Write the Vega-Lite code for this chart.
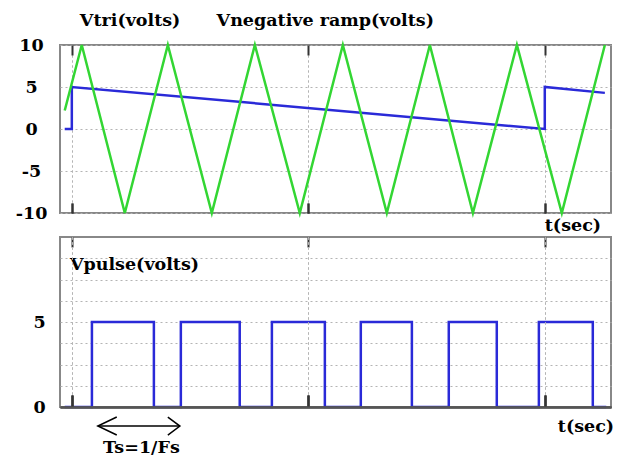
{
  "$schema": "https://vega.github.io/schema/vega-lite/v6.json",
  "autosize": {"type": "none"},
  "padding": {"left": 60, "top": 45, "right": 560, "bottom": 417},
  "background": "white",
  "bounds": "flush",
  "spacing": 24,
  "config": {
    "view": {"stroke": "#888888", "strokeWidth": 2},
    "text": {"font": "DejaVu Serif", "fontWeight": "bold", "fontSize": 17.5, "color": "black"}
  },
  "vconcat": [
    {
      "width": 551,
      "height": 168,
      "encoding": {
        "x": {"field": "t", "type": "quantitative", "scale": {"domain": [-0.5, 22.8], "nice": false, "zero": false},
          "axis": {"orient": "bottom", "values": [0, 10, 20], "labels": false, "title": null, "grid": true, "gridColor": "#b4b4b4", "gridDash": [2, 3], "gridWidth": 1, "ticks": true, "tickSize": -10, "tickColor": "#333333", "tickWidth": 2, "domain": false}},
        "y": {"field": "v", "type": "quantitative", "scale": {"domain": [-10, 10], "nice": false, "zero": false},
          "axis": {"values": [-10, -5, 0, 5, 10], "title": null, "grid": true, "gridColor": "#b4b4b4", "gridDash": [2, 3], "gridWidth": 1, "ticks": false, "domain": false, "labelFont": "DejaVu Serif", "labelFontWeight": "bold", "labelFontSize": 17.5, "labelColor": "black", "labelAlign": "center", "labelBaseline": "middle", "labelPadding": 29, "labelOverlap": false, "labelBound": false, "labelFlush": false,
            "labelExpr": "datum.value < 0 ? '-' + abs(datum.value) : '' + datum.value"}}
      },
      "layer": [
        {
          "data": {"values": [
            {"i": 1, "t": -0.3, "v": 0},
            {"i": 2, "t": 0, "v": 0},
            {"i": 3, "t": 0, "v": 5},
            {"i": 4, "t": 20, "v": 0},
            {"i": 5, "t": 20, "v": 5},
            {"i": 6, "t": 22.54, "v": 4.3}
          ]},
          "mark": {"type": "line", "color": "#2a2ad8", "strokeWidth": 2.5},
          "encoding": {
            "order": {"field": "i", "type": "quantitative"}
          }
        },
        {
          "data": {"values": [
            {"i": 1, "t": -0.3, "v": 2.2},
            {"i": 2, "t": 0.42, "v": 10},
            {"i": 3, "t": 2.24, "v": -10},
            {"i": 4, "t": 4.06, "v": 10},
            {"i": 5, "t": 5.92, "v": -10},
            {"i": 6, "t": 7.74, "v": 10},
            {"i": 7, "t": 9.64, "v": -10},
            {"i": 8, "t": 11.46, "v": 10},
            {"i": 9, "t": 13.32, "v": -10},
            {"i": 10, "t": 15.14, "v": 10},
            {"i": 11, "t": 16.96, "v": -10},
            {"i": 12, "t": 18.82, "v": 10},
            {"i": 13, "t": 20.72, "v": -10},
            {"i": 14, "t": 22.54, "v": 10}
          ]},
          "mark": {"type": "line", "color": "#33d633", "strokeWidth": 2.5},
          "encoding": {
            "x": {"field": "t", "type": "quantitative",
              "axis": {"orient": "top", "values": [0, 10, 20], "labels": false, "title": null, "grid": false, "ticks": true, "tickSize": -10, "tickColor": "#333333", "tickWidth": 2, "domain": false}},
            "order": {"field": "i", "type": "quantitative"}
          }
        },
        {
          "data": {"values": [
            {"t": 0.34, "v": 12.8, "label": "Vtri(volts)"},
            {"t": 6.12, "v": 12.8, "label": "Vnegative ramp(volts)"},
            {"t": 20.0, "v": -11.55, "label": "t(sec)"}
          ]},
          "mark": {"type": "text", "align": "left", "baseline": "middle"},
          "encoding": {
            "text": {"field": "label"}
          }
        }
      ],
      "resolve": {"axis": {"x": "independent"}}
    },
    {
      "width": 551,
      "height": 170,
      "encoding": {
        "x": {"field": "t", "type": "quantitative", "scale": {"domain": [-0.5, 22.8], "nice": false, "zero": false},
          "axis": {"orient": "bottom", "values": [0, 10, 20], "labels": false, "title": null, "grid": true, "gridColor": "#b4b4b4", "gridDash": [2, 3], "gridWidth": 1, "ticks": true, "tickSize": -12, "tickColor": "#333333", "tickWidth": 2, "domain": true, "domainColor": "#555555", "domainWidth": 2, "zindex": 1}},
        "y": {"field": "v", "type": "quantitative", "scale": {"domain": [0, 10], "nice": false, "zero": false},
          "axis": {"values": [0, 1.25, 2.5, 3.75, 5, 6.25, 7.5, 8.75], "title": null, "grid": true, "gridColor": "#b4b4b4", "gridDash": [2, 3], "gridWidth": 1, "ticks": false, "domain": false, "labelFont": "DejaVu Serif", "labelFontWeight": "bold", "labelFontSize": 17.5, "labelColor": "black", "labelAlign": "center", "labelBaseline": "middle", "labelPadding": 21, "labelOverlap": false, "labelBound": false, "labelFlush": false,
            "labelExpr": "datum.value == 0 || datum.value == 5 ? '' + datum.value : ''"}}
      },
      "layer": [
        {
          "data": {"values": [
            {"i": 1, "t": -0.3, "v": 0},
            {"i": 2, "t": 0.85, "v": 0},
            {"i": 3, "t": 0.85, "v": 5},
            {"i": 4, "t": 3.47, "v": 5},
            {"i": 5, "t": 3.47, "v": 0},
            {"i": 6, "t": 4.61, "v": 0},
            {"i": 7, "t": 4.61, "v": 5},
            {"i": 8, "t": 7.10, "v": 5},
            {"i": 9, "t": 7.10, "v": 0},
            {"i": 10, "t": 8.46, "v": 0},
            {"i": 11, "t": 8.46, "v": 5},
            {"i": 12, "t": 10.70, "v": 5},
            {"i": 13, "t": 10.70, "v": 0},
            {"i": 14, "t": 12.22, "v": 0},
            {"i": 15, "t": 12.22, "v": 5},
            {"i": 16, "t": 14.38, "v": 5},
            {"i": 17, "t": 14.38, "v": 0},
            {"i": 18, "t": 15.94, "v": 0},
            {"i": 19, "t": 15.94, "v": 5},
            {"i": 20, "t": 17.97, "v": 5},
            {"i": 21, "t": 17.97, "v": 0},
            {"i": 22, "t": 19.75, "v": 0},
            {"i": 23, "t": 19.75, "v": 5},
            {"i": 24, "t": 22.03, "v": 5},
            {"i": 25, "t": 22.03, "v": 0},
            {"i": 26, "t": 22.6, "v": 0}
          ]},
          "mark": {"type": "line", "color": "#2a2ad8", "strokeWidth": 2.5},
          "encoding": {
            "order": {"field": "i", "type": "quantitative"}
          }
        },
        {
          "data": {"values": [
            {"g": "shaft", "i": 1, "t": 1.10, "v": -1.12},
            {"g": "shaft", "i": 2, "t": 4.57, "v": -1.12},
            {"g": "left", "i": 1, "t": 1.90, "v": -0.59},
            {"g": "left", "i": 2, "t": 1.10, "v": -1.12},
            {"g": "left", "i": 3, "t": 1.90, "v": -1.65},
            {"g": "right", "i": 1, "t": 4.06, "v": -0.59},
            {"g": "right", "i": 2, "t": 4.57, "v": -1.12},
            {"g": "right", "i": 3, "t": 4.06, "v": -1.65}
          ]},
          "mark": {"type": "line", "color": "black", "strokeWidth": 1.5},
          "encoding": {
            "x": {"field": "t", "type": "quantitative",
              "axis": {"orient": "top", "values": [0, 10, 20], "labels": false, "title": null, "grid": false, "ticks": true, "tickSize": -10, "tickColor": "#333333", "tickWidth": 2, "domain": false}},
            "detail": {"field": "g", "type": "nominal"},
            "order": {"field": "i", "type": "quantitative"}
          }
        },
        {
          "data": {"values": [
            {"t": -0.08, "v": 8.35, "label": "Vpulse(volts)"},
            {"t": 20.55, "v": -1.18, "label": "t(sec)"}
          ]},
          "mark": {"type": "text", "align": "left", "baseline": "middle"},
          "encoding": {
            "text": {"field": "label"}
          }
        },
        {
          "data": {"values": [
            {"t": 2.94, "v": -2.41, "label": "Ts=1/Fs"}
          ]},
          "mark": {"type": "text", "align": "center", "baseline": "middle"},
          "encoding": {
            "text": {"field": "label"}
          }
        }
      ],
      "resolve": {"axis": {"x": "independent"}}
    }
  ]
}
